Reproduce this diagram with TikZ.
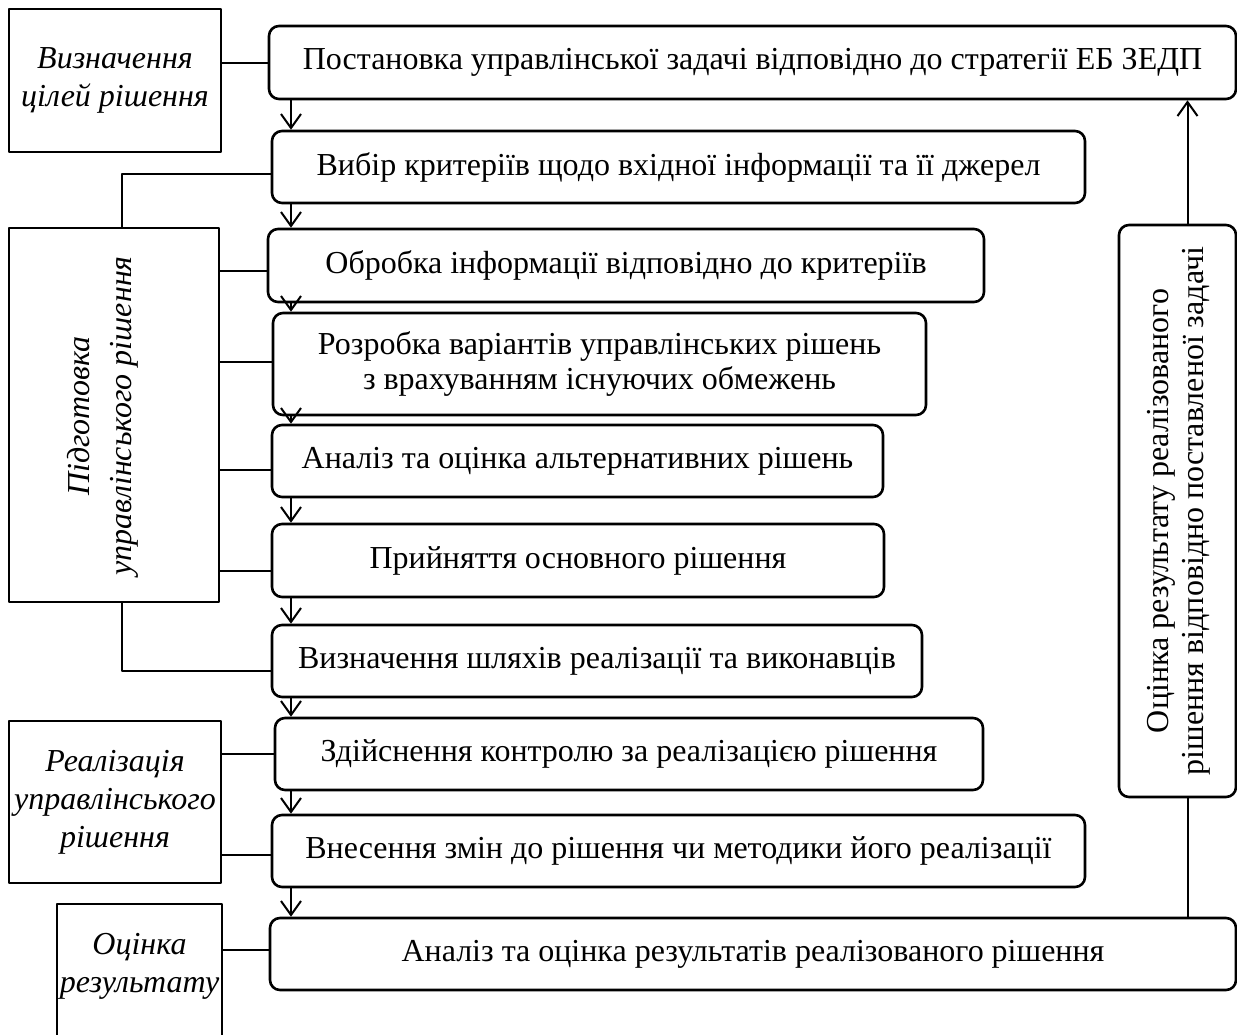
\documentclass[tikz,border=0pt]{standalone}
\usepackage{fontspec}
\setmainfont{Liberation Serif}
\usetikzlibrary{arrows.meta}
\begin{document}
\begin{tikzpicture}[x=.5pt,y=-.5pt,font=\fontsize{16}{17.5}\selectfont,line cap=round,line join=round,>={Straight Barb[length=7pt,width=10pt]},
	stage/.style={draw,line width=1.3pt,rounded corners=5pt,inner sep=0pt,align=center},
	phase/.style={draw,line width=1.3pt,inner sep=0pt},
	ptext/.style={font=\fontsize{16}{19}\selectfont\itshape,align=center},
	link/.style={line width=1pt}]
		\useasboundingbox (0,0) rectangle (1237,1034);
		\node[stage,minimum width=483.5pt,minimum height=36.5pt] (b1) at (752.5,62.5) {Постановка управлінської задачі відповідно до стратегії ЕБ ЗЕДП};
		\node[stage,minimum width=406.5pt,minimum height=36pt] (b2) at (678.5,167) {Вибір критеріїв щодо вхідної інформації та її джерел};
		\node[stage,minimum width=358pt,minimum height=36.5pt] (b3) at (626,265.5) {Обробка інформації відповідно до критеріїв};
		\node[stage,minimum width=326.5pt,minimum height=51pt] (b4) at (599.5,364) {Розробка варіантів управлінських рішень\\з врахуванням існуючих обмежень};
		\node[stage,minimum width=305.5pt,minimum height=36pt] (b5) at (577.5,461) {Аналіз та оцінка альтернативних рішень};
		\node[stage,minimum width=306pt,minimum height=36.5pt] (b6) at (578,560.5) {Прийняття основного рішення};
		\node[stage,minimum width=325pt,minimum height=36pt] (b7) at (597,661) {Визначення шляхів реалізації та виконавців};
		\node[stage,minimum width=354pt,minimum height=36pt] (b8) at (629,754) {Здійснення контролю за реалізацією рішення};
		\node[stage,minimum width=406.5pt,minimum height=36pt] (b9) at (678.5,851) {Внесення змін до рішення чи методики його реалізації};
		\node[stage,minimum width=483pt,minimum height=36pt] (b10) at (753,954) {Аналіз та оцінка результатів реалізованого рішення};
		\node[stage,minimum width=58.5pt,minimum height=286pt] (fb) at (1177.5,511) {};
		\node[rotate=90,align=center] (fbtext) at (1179,511) {Оцінка результату реалізованого\\рішення відповідно поставленої задачі};
		\node[phase,ptext,minimum width=106pt,minimum height=71.5pt] (goal) at (115,80.5) {Визначення\\цілей рішення};
		\node[phase,minimum width=105pt,minimum height=187pt] (prep) at (114,415) {};
		\node[ptext,font=\fontsize{16}{21}\selectfont\itshape,rotate=90] (preptext) at (103,416) {Підготовка\\управлінського рішення};
		\node[phase,ptext,minimum width=106pt,minimum height=81pt] (real) at (115,802) {Реалізація\\управлінського\\рішення};
		\node[phase,minimum width=82.5pt,minimum height=73pt] (eval) at (139.5,977) {};
		\node[ptext] (evaltext) at (139.5,966) {Оцінка\\результату};
		\coordinate (ax) at (291,0);
		\foreach \a/\b in {b1/b2,b2/b3,b3/b4,b4/b5,b5/b6,b6/b7,b7/b8,b8/b9,b9/b10}
			\draw[link,->] (\a.south -| ax)--(\b.north -| ax);
		\draw[link,->] ([xshift=5pt]fb.north)--([xshift=5pt]fb.north |- b1.south);
		\draw[link] ([xshift=5pt]fb.south)--([xshift=5pt]fb.south |- b10.north);
		\draw[link] (goal.east |- b1.west)--(b1.west);
		\draw[link] ([xshift=4pt]prep.north) |- ([yshift=-3.5pt]b2.west);
		\foreach \b/\s in {b3/-2.75,b4/1,b5/-4.5,b6/-5.25}
			\draw[link] ([yshift=\s pt]\b.west -| prep.east)--([yshift=\s pt]\b.west);
		\draw[link] ([xshift=4pt]prep.south) |- ([yshift=-5pt]b7.west);
		\draw[link] (real.east |- b8.west)--(b8.west);
		\draw[link] ([yshift=-2pt]b9.west -| real.east)--([yshift=-2pt]b9.west);
		\draw[link] ([yshift=2pt]b10.west -| eval.east)--([yshift=2pt]b10.west);
\end{tikzpicture}
\end{document}
